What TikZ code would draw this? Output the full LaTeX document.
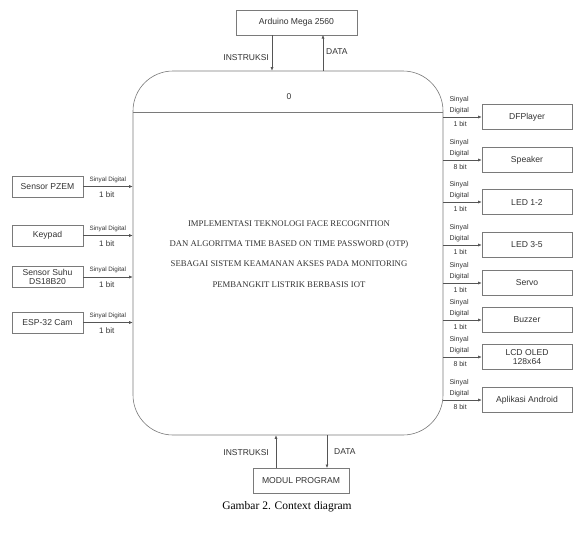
\documentclass[tikz,border=0pt]{standalone}
\usepackage{fontspec}
\setmainfont{Liberation Serif}
\newfontfamily\arialf{Liberation Sans}
\usetikzlibrary{arrows.meta}
\definecolor{lnc}{HTML}{7A7A7A}
\definecolor{arc}{HTML}{555555}
\definecolor{txc}{HTML}{333333}
\tikzset{
  boxs/.style={draw=lnc, line width=0.6pt, inner sep=1pt, align=center, text=txc,
    font=\arialf\fontsize{8.6}{9.5}\selectfont},
  lbox/.style={boxs, minimum width=71pt, minimum height=21pt},
  rbox/.style={boxs, minimum width=90pt, minimum height=25pt},
  tbox/.style={boxs, minimum width=96pt, minimum height=25pt},
  arr/.style={draw=arc, line width=0.6pt, -{Latex[length=3.5pt,width=3pt]}},
  slab/.style={text=txc, inner sep=0pt, font=\arialf\fontsize{6.3}{7}\selectfont},
  blab/.style={text=txc, inner sep=0pt, font=\arialf\fontsize{8}{9}\selectfont},
  rlab/.style={text=txc, inner sep=0pt, align=left, font=\arialf\fontsize{7}{11}\selectfont},
  flab/.style={text=txc, inner sep=0pt, font=\arialf\fontsize{8.5}{9}\selectfont},
}
\begin{document}
\begin{tikzpicture}[x=1pt,y=-1pt]
\useasboundingbox[fill=white] (0,0) rectangle (577,533);
% main process
\node[draw=lnc, line width=0.6pt, rounded corners=40pt, minimum width=310pt, minimum height=364pt, inner sep=0pt] (main) at (288,253) {};
\coordinate (divl) at (133,112);
\coordinate (divr) at (443,112);
\draw[lnc, line width=0.6pt] (divl) -- (divr);
\node[flab] (zero) at (289,97) {0};
\node[text=txc, align=center, font=\fontsize{8.7}{20.3}\selectfont] (title) at (289,254)
 {IMPLEMENTASI TEKNOLOGI FACE RECOGNITION\\
  DAN ALGORITMA TIME BASED ON TIME PASSWORD (OTP)\\
  SEBAGAI SISTEM KEAMANAN AKSES PADA MONITORING\\
  PEMBANGKIT LISTRIK BERBASIS IOT};
% top
\node[tbox, minimum width=121pt] (ard) at (296.5,22.5) {Arduino Mega 2560};
\coordinate (ti) at (272,35);
\coordinate (td) at (323,35);
\draw[arr] (ti) -- (ti |- main.north);
\draw[arr] (td |- main.north) -- (td);
\node[flab, anchor=east] (tinst) at (269,58) {INSTRUKSI};
\node[flab, anchor=west] (tdata) at (326,52) {DATA};
% bottom
\node[tbox] (mod) at (301,480.5) {MODUL PROGRAM};
\coordinate (bi) at (276,468);
\coordinate (bd) at (327,468);
\draw[arr] (bi) -- (bi |- main.south);
\draw[arr] (bd |- main.south) -- (bd);
\node[flab, anchor=east] (binst) at (269,453) {INSTRUKSI};
\node[flab, anchor=west] (bdata) at (334,452) {DATA};
% left inputs
\foreach \n/\y/\t in {l1/186.5/Sensor PZEM, l2/235.5/Keypad, l3/277/{Sensor Suhu\\DS18B20}, l4/322.5/ESP-32 Cam}{
  \node[lbox] (\n) at (47.5,\y) {\t};
  \draw[arr] (\n.east) -- (\n.east -| main.west);
  \node[slab] (\n s) at ([xshift=24.5pt,yshift=7pt]\n.east) {Sinyal Digital};
  \node[blab] (\n b) at ([xshift=23.5pt,yshift=-8pt]\n.east) {1 bit};
}
% right outputs
\foreach \n/\y/\t/\b in {r1/117/DFPlayer/1, r2/160/Speaker/8, r3/202/LED 1-2/1, r4/245/LED 3-5/1, r5/283/Servo/1, r6/320/Buzzer/1, r7/357/{LCD OLED\\128x64}/8, r8/400/Aplikasi Android/8}{
  \node[rbox] (\n) at (527,\y) {\t};
  \draw[arr] (\n.west -| main.east) -- (\n.west);
  \node[rlab, anchor=south west] (\n s) at ([xshift=6pt,yshift=3pt]\n.west -| main.east) {Sinyal\\Digital};
  \node[rlab, anchor=west] (\n b) at ([xshift=10pt,yshift=-7pt]\n.west -| main.east) {\b{} bit};
}
\node[font=\fontsize{11.5}{13}\selectfont] (cap) at (287,507) {Gambar 2. Context diagram};
\end{tikzpicture}
\end{document}
